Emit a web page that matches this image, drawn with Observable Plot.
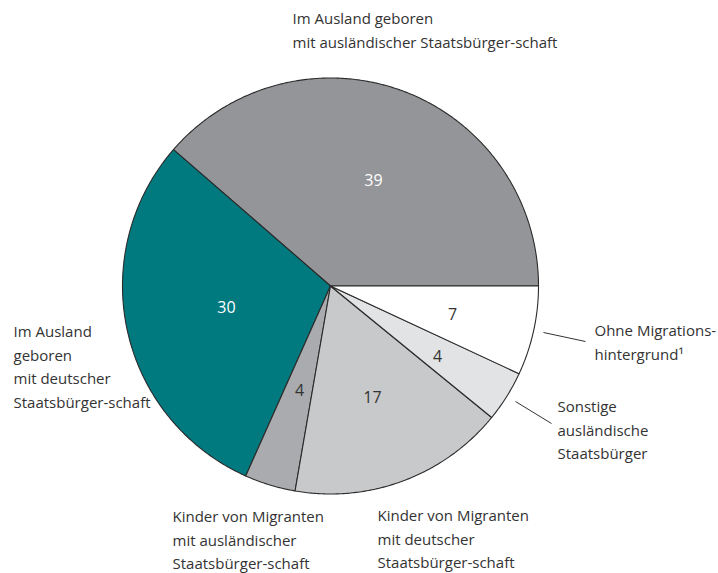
<!DOCTYPE html>
<html><head><meta charset="utf-8">
<script src="https://cdn.jsdelivr.net/npm/d3@7"></script>
<script src="https://cdn.jsdelivr.net/npm/@observablehq/plot@0.6"></script>
<style>
html,body{margin:0;padding:0;background:#fff;}
svg{font-family:"Open Sans",sans-serif;}
</style>
</head><body>
<div id="chart"></div>
<script>
// Data
const categories = [
  "Im Ausland geboren mit ausländischer Staatsbürger-schaft",
  "Im Ausland geboren mit deutscher Staatsbürger-schaft",
  "Kinder von Migranten mit ausländischer Staatsbürger-schaft",
  "Kinder von Migranten mit deutscher Staatsbürger-schaft",
  "Sonstige ausländische Staatsbürger",
  "Ohne Migrationshintergrund¹"
];
const values = [39, 30, 4, 17, 4, 7];
const outerLabels = [
  "Im Ausland geboren\nmit ausländischer Staatsbürger-schaft",
  "Im Ausland\ngeboren\nmit deutscher\nStaatsbürger-schaft",
  "Kinder von Migranten\nmit ausländischer\nStaatsbürger-schaft",
  "Kinder von Migranten\nmit deutscher\nStaatsbürger-schaft",
  "Sonstige\nausländische\nStaatsbürger",
  "Ohne Migrations-\nhintergrund¹"
];

// Layout / style
const W = 718, H = 573;
const cx = 330, cy = 285.5, R = 208;
const colors = ["#939598", "#00797f", "#a9abae", "#c8c9cb", "#e2e3e4", "#ffffff"];
const numColors = ["#ffffff", "#ffffff", "#333333", "#333333", "#333333", "#333333"];
const numPos = [[373,180],[226,307],[299,390],[372,397],[437,356],[452,314]];
// first-line centres of the outer labels
const labelPos = [[292,20],[13,333],[172,518],[377,517],[557,408],[594,332]];
const leaders = [
  {cat: 5, x1: 543, y1: 332, x2: 585, y2: 341},
  {cat: 4, x1: 515, y1: 401, x2: 551, y2: 423}
];

const total = d3.sum(values);
let acc = 0;
const slices = values.map((v, i) => {
  const a0 = acc / total * 2 * Math.PI;
  acc += v;
  const a1 = acc / total * 2 * Math.PI;
  return {i, v, a0, a1};
});
const pts = [];
for (const s of slices) {
  pts.push({cat: s.i, x: cx, y: cy});
  const n = Math.max(2, Math.ceil((s.a1 - s.a0) / (Math.PI / 360)));
  for (let k = 0; k <= n; k++) {
    const a = s.a0 + (s.a1 - s.a0) * k / n;
    pts.push({cat: s.i, x: cx + R * Math.cos(a), y: cy - R * Math.sin(a)});
  }
}

const nums = values.map((v, i) => ({v, i, x: numPos[i][0], y: numPos[i][1]}));
const labs = outerLabels.map((t, i) => ({t, i, x: labelPos[i][0], y: labelPos[i][1] - 13}));

const marks = [];
for (const s of slices) {
  marks.push(Plot.line(pts.filter(p => p.cat === s.i), {
    x: "x", y: "y", curve: "linear-closed",
    fill: colors[s.i], stroke: "#2b2b2b", strokeWidth: 1.1, strokeLinejoin: "round"
  }));
}
marks.push(Plot.text(nums, {
  x: "x", y: "y", text: d => String(d.v),
  fill: d => numColors[d.i], fontSize: 16, fontWeight: d => d.i === 2 || d.i === 3 ? 600 : 400
}));
marks.push(Plot.link(leaders, {x1: "x1", y1: "y1", x2: "x2", y2: "y2", stroke: "#333", strokeWidth: 1}));
marks.push(Plot.text(labs, {
  x: "x", y: "y", text: "t", textAnchor: "start", lineAnchor: "top",
  lineHeight: 1.57, fontSize: 15, fill: "#333"
}));

const chart = Plot.plot({
  width: W, height: H,
  margin: 0,
  x: {type: "linear", domain: [0, W], range: [0, W], axis: null},
  y: {type: "linear", domain: [0, H], range: [0, H], axis: null},
  marks
});
document.getElementById("chart").appendChild(chart);
</script>
</body></html>
